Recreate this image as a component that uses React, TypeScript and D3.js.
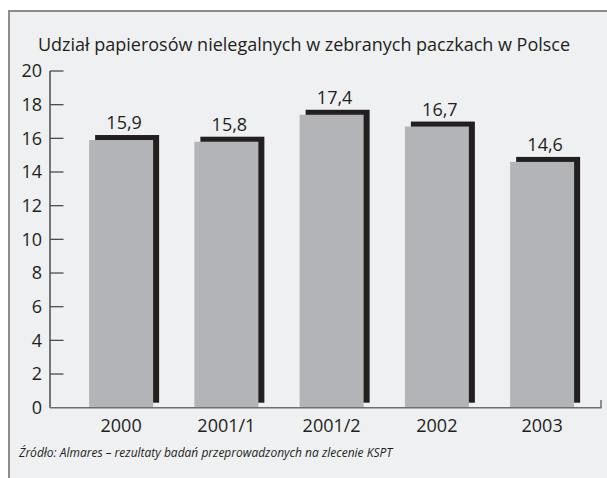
import React from "react";
import * as d3 from "d3";

const categories = ["2000", "2001/1", "2001/2", "2002", "2003"];
const values = [15.9, 15.8, 17.4, 16.7, 14.6];
const valueLabels = ["15,9", "15,8", "17,4", "16,7", "14,6"];
const yTicks = [0, 2, 4, 6, 8, 10, 12, 14, 16, 18, 20];
const title = "Udział papierosów nielegalnych w zebranych paczkach w Polsce";
const source = "Źródło: Almares – rezultaty badań przeprowadzonych na zlecenie KSPT";

const W = 607;
const H = 478;
const FONT = "'Open Sans', 'Noto Sans', sans-serif";

export default function App() {
  const x = d3
    .scaleBand<string>()
    .domain(categories)
    .range([68.5, 594.75])
    .paddingInner(0.392)
    .paddingOuter(0.196);
  const y = d3.scaleLinear().domain([0, 20]).range([407.7, 71]);
  const axisX = 50;
  const axisY = y(0);
  const dx = 6;
  const dy = 5;

  return (
    <svg
      width={W}
      height={H}
      style={{ position: "absolute", left: 0, top: 0 }}
      fontFamily={FONT}
    >
      <rect x={0} y={0} width={W} height={H} fill="#ffffff" />
      <rect x={9} y={11} width={W + 20} height={H + 20} fill="#eff0f2" stroke="#8c8c8c" strokeWidth={2} />
      <text x={304} y={51} textAnchor="middle" fontSize={18} fill="#231f20">
        {title}
      </text>
      {/* bars */}
      {categories.map((c, i) => {
        const bx = x(c)!;
        const by = y(values[i]);
        const bh = axisY - by;
        return (
          <g key={c}>
            <rect x={bx + dx} y={by - dy} width={x.bandwidth()} height={bh} fill="#231f20" />
            <rect x={bx} y={by} width={x.bandwidth()} height={bh} fill="#b3b4b7" />
            <text
              x={bx + x.bandwidth() / 2 + 3}
              y={by - dy - 6}
              textAnchor="middle"
              fontSize={18}
              fill="#231f20"
            >
              {valueLabels[i]}
            </text>
            <text
              x={bx + x.bandwidth() / 2}
              y={432}
              textAnchor="middle"
              fontSize={18}
              fill="#231f20"
            >
              {c}
            </text>
          </g>
        );
      })}
      {/* y axis */}
      <line x1={axisX} x2={axisX} y1={y(20)} y2={axisY} stroke="#4d4d4f" strokeWidth={1.5} />
      {yTicks.map((t) => (
        <g key={t}>
          {t > 0 && (
            <line x1={axisX} x2={63.5} y1={y(t)} y2={y(t)} stroke="#4d4d4f" strokeWidth={1.3} />
          )}
          <text
            x={42}
            y={y(t)}
            dy="0.35em"
            textAnchor="end"
            fontSize={18}
            fill="#231f20"
          >
            {t}
          </text>
        </g>
      ))}
      {/* x axis */}
      <path
        d={`M${axisX},${axisY}H601V400`}
        fill="none"
        stroke="#6d6e71"
        strokeWidth={1.5}
      />
      <text x={19} y={457} fontSize={12} fontStyle="italic" fill="#231f20">
        {source}
      </text>
    </svg>
  );
}
